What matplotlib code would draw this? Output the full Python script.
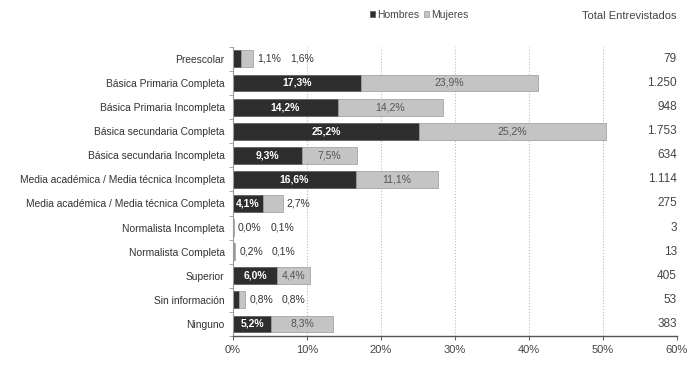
import matplotlib.pyplot as plt
import numpy as np

categories = [
    "Preescolar",
    "Básica Primaria Completa",
    "Básica Primaria Incompleta",
    "Básica secundaria Completa",
    "Básica secundaria Incompleta",
    "Media académica / Media técnica Incompleta",
    "Media académica / Media técnica Completa",
    "Normalista Incompleta",
    "Normalista Completa",
    "Superior",
    "Sin información",
    "Ninguno",
]
hombres = [1.1, 17.3, 14.2, 25.2, 9.3, 16.6, 4.1, 0.0, 0.2, 6.0, 0.8, 5.2]
mujeres = [1.6, 23.9, 14.2, 25.2, 7.5, 11.1, 2.7, 0.1, 0.1, 4.4, 0.8, 8.3]
totales = ["79", "1.250", "948", "1.753", "634", "1.114", "275", "3", "13", "405", "53", "383"]

plt.rcParams["font.family"] = ["Liberation Sans", "DejaVu Sans"]

dark = "#2e2e2e"
light = "#c4c4c4"
text_c = "#333333"


def fmt(v):
    return f"{v:.1f}%".replace(".", ",")


fig = plt.figure(figsize=(6.87, 3.66), dpi=100)
ax = fig.add_axes([0.339, 0.082, 0.646, 0.79])

y = np.arange(len(categories))
ax.barh(y, hombres, height=0.7, color=dark, edgecolor="#555555", linewidth=0.5, label="Hombres")
ax.barh(y, mujeres, left=hombres, height=0.7, color=light, edgecolor="#999999", linewidth=0.5, label="Mujeres")

for i, (h, m) in enumerate(zip(hombres, mujeres)):
    total = h + m
    if total < 3:
        ax.text(total + 0.6, i, fmt(h), va="center", ha="left", fontsize=7.5, color=text_c)
        ax.text(total + 5.0, i, fmt(m), va="center", ha="left", fontsize=7.5, color=text_c)
        continue
    ax.text(h / 2, i, fmt(h), va="center", ha="center", fontsize=7.5,
            color="white", fontweight="bold")
    if m >= 3.5:
        ax.text(h + m / 2, i, fmt(m), va="center", ha="center", fontsize=7.5, color="#555555")
    else:
        ax.text(total + 0.4, i, fmt(m), va="center", ha="left", fontsize=7.5, color=text_c)

ax.set_xlim(0, 60)
ax.set_ylim(len(categories) - 0.5, -0.5)
ax.set_xticks(np.arange(0, 61, 10))
ax.set_xticklabels([f"{t}%" for t in range(0, 61, 10)], fontsize=8, color="#444444")
ax.set_yticks(y)
ax.set_yticklabels(categories, fontsize=7.4, color=text_c)
ax.tick_params(axis="y", length=0, pad=6)
ax.tick_params(axis="x", length=3, color="#666666")
ax.set_yticks(np.arange(-0.5, len(categories), 1), minor=True)
ax.tick_params(axis="y", which="minor", length=3, color="#999999")

ax.grid(axis="x", linestyle=":", color="#bbbbbb", linewidth=0.8)
ax.set_axisbelow(True)
for s in ["top", "right"]:
    ax.spines[s].set_visible(False)
ax.spines["left"].set_color("#999999")
ax.spines["bottom"].set_color("#555555")
ax.spines["bottom"].set_linewidth(1.0)

for i, t in enumerate(totales):
    ax.text(1.0, i, t, transform=ax.get_yaxis_transform(), ha="right", va="center",
            fontsize=8.5, color="#444444")

fig.text(0.985, 0.955, "Total Entrevistados", ha="right", va="center", fontsize=8, color="#444444")
fig.legend(loc="center", bbox_to_anchor=(0.61, 0.96), ncol=2, frameon=False, fontsize=7.5,
           handlelength=0.5, handleheight=0.5, handletextpad=0.2, columnspacing=0.4,
           labelcolor="#444444")

fig.savefig("out.png", dpi=100)
